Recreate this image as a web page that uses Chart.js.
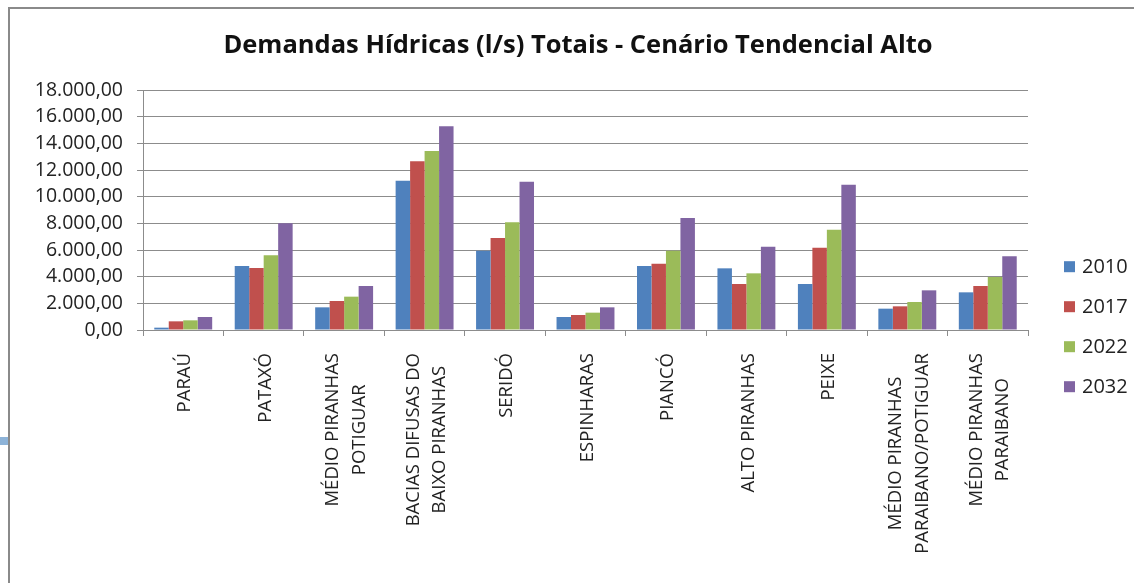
<!DOCTYPE html>
<html>
<head>
<meta charset="utf-8">
<script src="https://cdn.jsdelivr.net/npm/chart.js@4.4.1/dist/chart.umd.min.js"></script>
<style>
  html, body { margin: 0; padding: 0; background: #fff; }
  #wrap { width: 1134px; height: 583px; position: relative; }
</style>
</head>
<body>
<div id="wrap"><canvas id="grafico"></canvas></div>
<script>
const categorias = [
    ['PARAÚ'], ['PATAXÓ'], ['MÉDIO PIRANHAS', 'POTIGUAR'], ['BACIAS DIFUSAS DO', 'BAIXO PIRANHAS'],
    ['SERIDÓ'], ['ESPINHARAS'], ['PIANCÓ'], ['ALTO PIRANHAS'], ['PEIXE'],
    ['MÉDIO PIRANHAS', 'PARAIBANO/POTIGUAR'], ['MÉDIO PIRANHAS', 'PARAIBANO']
];
const anos = ['2010', '2017', '2022', '2032'];
const v2010 = [175, 4800, 1700, 11200, 5950, 975, 4800, 4625, 3450, 1600, 2825];
const v2017 = [650, 4650, 2175, 12650, 6900, 1125, 4975, 3450, 6175, 1775, 3300];
const v2022 = [725, 5600, 2500, 13425, 8075, 1300, 5950, 4250, 7525, 2100, 3975];
const v2032 = [975, 8000, 3300, 15275, 11125, 1700, 8400, 6250, 10900, 2975, 5525];
const cores = ['#4F81BD', '#C0504D', '#9BBB59', '#8064A2'];
const eixoY = { min: 0, max: 18000, passo: 2000 };

const fonte = '"Open Sans", "Liberation Sans", sans-serif';
const cinza = '#8c8c8c';

// 18000 -> "18.000,00"
function formatar(v) {
    const inteiro = Math.round(v).toString().replace(/\B(?=(\d{3})+(?!\d))/g, '.');
    return inteiro + ',00';
}

// moldura do gráfico (cortada à direita e embaixo, como na captura)
const moldura = {
    id: 'moldura',
    beforeDraw(chart) {
        const c = chart.ctx;
        c.save();
        c.fillStyle = '#fff';
        c.fillRect(0, 0, chart.width, chart.height);
        c.fillStyle = '#8db3d8';
        c.fillRect(0, 437, 8, 8);
        c.strokeStyle = '#8a8a8a';
        c.lineWidth = 2;
        c.beginPath();
        c.moveTo(9, chart.height);
        c.lineTo(9, 8);
        c.lineTo(chart.width, 8);
        c.stroke();
        c.restore();
    }
};

// rótulos das categorias girados, linhas centralizadas entre si
const rotulosX = {
    id: 'rotulosX',
    afterDraw(chart) {
        const c = chart.ctx;
        const xs = chart.scales.x;
        const topo = chart.chartArea.bottom + 23;
        c.save();
        c.font = '18.5px ' + fonte;
        c.fillStyle = '#222';
        c.textAlign = 'center';
        c.textBaseline = 'middle';
        categorias.forEach((linhas, i) => {
            const x = xs.getPixelForValue(i) + 2;
            const maior = Math.max(...linhas.map(l => c.measureText(l).width));
            c.save();
            c.translate(x, topo);
            c.rotate(-Math.PI / 2);
            linhas.forEach((l, j) => {
                c.fillText(l, -maior / 2, (j - (linhas.length - 1) / 2) * 26.7);
            });
            c.restore();
        });
        c.restore();
    }
};

// legenda à direita
const legenda = {
    id: 'legenda',
    afterDraw(chart) {
        const c = chart.ctx;
        const x0 = chart.chartArea.right + 36;
        const yc = 326.7;
        c.save();
        c.font = '20px ' + fonte;
        c.textBaseline = 'middle';
        c.textAlign = 'left';
        chart.data.datasets.forEach((ds, i) => {
            const y = yc + (i - 1.5) * 40;
            c.fillStyle = ds.backgroundColor;
            c.fillRect(x0, y - 5.5, 11, 11);
            c.fillStyle = '#222';
            c.fillText(ds.label, x0 + 18, y + 1);
        });
        c.restore();
    }
};

const series = [v2010, v2017, v2022, v2032];

new Chart(document.getElementById('grafico'), {
    type: 'bar',
    data: {
        labels: categorias,
        datasets: anos.map((a, i) => ({
            label: a,
            data: series[i],
            backgroundColor: cores[i],
            borderWidth: 0,
            categoryPercentage: 0.72,
            barPercentage: 1.0,
            yAxisID: 'y'
        }))
    },
    options: {
        responsive: true,
        maintainAspectRatio: false,
        animation: false,
        devicePixelRatio: 1,
        layout: { padding: { top: 0, left: 22, right: 0, bottom: 0 } },
        plugins: {
            legend: { display: false },
            tooltip: { enabled: false },
            title: {
                display: true,
                text: 'Demandas Hídricas (l/s) Totais - Cenário Tendencial Alto',
                color: '#111',
                font: { family: fonte, size: 25.5, weight: 'bold' },
                padding: { top: 30.2, bottom: 29.2 }
            }
        },
        scales: {
            x: {
                grid: { display: true, drawOnChartArea: false, drawTicks: true, tickLength: 6, color: cinza, offset: true },
                border: { display: true, color: cinza, width: 1 },
                ticks: { display: false },
                afterFit(s) { s.height = 253; }
            },
            y: {
                min: eixoY.min,
                max: eixoY.max,
                grid: { color: cinza, tickLength: 6, drawTicks: true },
                border: { display: true, color: cinza, width: 1 },
                ticks: {
                    stepSize: eixoY.passo,
                    padding: 14,
                    color: '#222',
                    font: { family: fonte, size: 19.5 },
                    callback: v => formatar(v)
                },
                afterFit(s) { s.width = 121; }
            },
            // espaço reservado para a legenda à direita
            reserva: {
                position: 'right',
                grid: { display: false },
                border: { display: false },
                ticks: { display: false },
                afterFit(s) { s.width = 106; }
            }
        }
    },
    plugins: [moldura, rotulosX, legenda]
});
</script>
</body>
</html>
